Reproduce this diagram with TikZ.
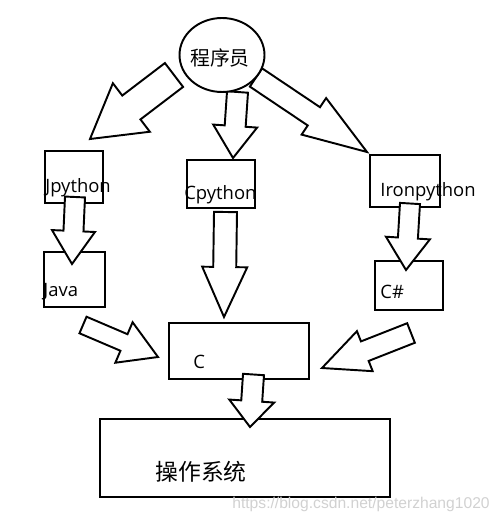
\documentclass[tikz,border=0pt]{standalone}
\usepackage{fontspec}
\setmainfont{Open Sans}
\newfontfamily\cjk{Noto Sans CJK SC}
\newfontfamily\wmfont{Liberation Sans}
\usetikzlibrary{calc,shapes.geometric}
\tikzset{
  px/.style={x=0.02cm,y=-0.02cm},
  box/.style={draw,line width=1.1pt,rectangle,inner sep=0pt,fill=white},
  blockarrow/.style={draw,fill=white,line width=1.1pt,line join=miter},
  lbl/.style={inner sep=0pt,anchor=base west,font=\fontsize{10.5pt}{12pt}\selectfont},
}
% #1 tail, #2 tip, #3 shaft half-width, #4 head half-width, #5 head length (px)
\newcommand\blockarr[5]{%
  \coordinate (bah) at ($(#2)!#5*0.02cm!(#1)$);
  \draw[blockarrow]
    ($(#1)!#3*0.02cm!90:(#2)$) --
    ($(bah)!#3*0.02cm!90:(#2)$) --
    ($(bah)!#4*0.02cm!90:(#2)$) --
    (#2) --
    ($(bah)!#4*0.02cm!-90:(#2)$) --
    ($(bah)!#3*0.02cm!-90:(#2)$) --
    ($(#1)!#3*0.02cm!-90:(#2)$) -- cycle;}
\begin{document}
\begin{tikzpicture}[px]
\useasboundingbox (0,0) rectangle (500,523);
% boxes
\node[box,minimum width=1.16cm,minimum height=1.04cm] (jpy) at (74,177) {};
\node[box,minimum width=1.22cm,minimum height=1.10cm] (java) at (74.5,279.5) {};
\node[box,minimum width=1.36cm,minimum height=0.96cm] (cpy) at (221,184) {};
\node[box,minimum width=1.40cm,minimum height=1.04cm] (iron) at (405,181) {};
\node[box,minimum width=1.36cm,minimum height=0.98cm] (cs) at (409,285.5) {};
\node[box,minimum width=2.80cm,minimum height=1.12cm] (c) at (239,351) {};
\node[box,minimum width=5.80cm,minimum height=1.56cm] (os) at (245,458) {};
% arrow ends
\coordinate (a1s) at (174,75);    \coordinate (a1e) at (90,139);
\coordinate (a2s) at (237.5,92);  \coordinate (a2e) at (233,158);
\coordinate (a3s) at (256,77.5);  \coordinate (a3e) at (367,152);
\coordinate (a4s) at (75,197);    \coordinate (a4e) at (72,264);
\coordinate (a5s) at (225.5,212); \coordinate (a5e) at (224,317);
\coordinate (a6s) at (410,203.5); \coordinate (a6e) at (406,270);
\coordinate (a7s) at (83,325);    \coordinate (a7e) at (158,357);
\coordinate (a8s) at (411,333);   \coordinate (a8e) at (322,368);
\coordinate (a9s) at (253.5,374.5); \coordinate (a9e) at (250,427);
\blockarr{a1s}{a1e}{15}{30.5}{52}
\blockarr{a2s}{a2e}{10.5}{22}{32}
\blockarr{a3s}{a3e}{11}{22}{64}
\blockarr{a4s}{a4e}{10}{21.5}{33}
\blockarr{a5s}{a5e}{11.5}{22.5}{50}
\blockarr{a6s}{a6e}{10}{22}{32}
\blockarr{a7s}{a7e}{9}{22}{37}
\blockarr{a8s}{a8e}{10.5}{21.5}{46}
\blockarr{a9s}{a9e}{10.5}{22.5}{26}
% programmer ellipse
\node[draw,fill=white,line width=1.1pt,ellipse,minimum width=1.7cm,minimum height=1.48cm,inner sep=0pt] (prog) at (222,55) {};
\node[inner sep=0pt,font=\cjk\fontsize{11.3pt}{13pt}\selectfont] (progt) at (220,57.5) {程序员};
% labels
\node[lbl] (jpyt) at (45,193) {Jpython};
\node[lbl] (javat) at (43,296) {Java};
\node[lbl] (cpyt) at (184,200) {Cpython};
\node[lbl] (iront) at (380,196.7) {Ironpython};
\node[lbl] (cst) at (380,298) {C\#};
\node[lbl] (ct) at (193,368) {C};
\node[inner sep=0pt,anchor=west,font=\cjk\fontsize{13pt}{15pt}\selectfont] (ost) at (155,472) {操作系统};
\node[inner sep=0pt,anchor=west,text=black!18,font=\wmfont\fontsize{8.9pt}{10pt}\selectfont] (wm) at (232,504) {https://blog.csdn.net/peterzhang1020};
\end{tikzpicture}
\end{document}
